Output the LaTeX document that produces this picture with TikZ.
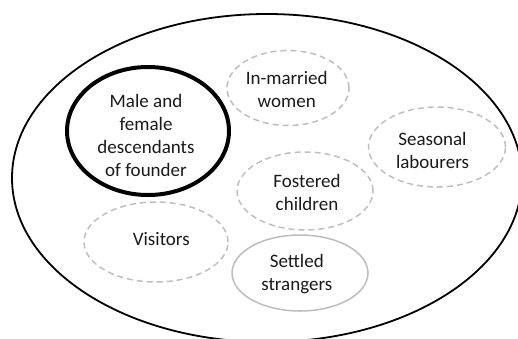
\documentclass[tikz,border=0pt]{standalone}
\usepackage{fontspec}
\setmainfont{Carlito}
\usetikzlibrary{shapes.geometric}
\definecolor{dashgray}{HTML}{BFBFBF}
\definecolor{solidgray}{HTML}{BDBDBD}
\definecolor{txtcol}{HTML}{1A1A1A}
\tikzset{
  grp/.style={ellipse, inner sep=0pt},
  dashgrp/.style={grp, draw=dashgray, line width=1.5pt, dash pattern=on 6pt off 4pt},
  solidgrp/.style={grp, draw=solidgray, line width=1.5pt},
  coregrp/.style={grp, draw=black, line width=4pt},
  outergrp/.style={ellipse, draw=black, line width=1.8pt, inner sep=0pt},
  lbl/.style={anchor=base, inner sep=0pt, align=center, text=txtcol, font=\fontsize{19}{23}\selectfont},
}
\begin{document}
\begin{tikzpicture}[x=1pt,y=-1pt]
\useasboundingbox (0,0) rectangle (518,338);
\fill[white] (0,0) rectangle (518,338);
\begin{scope}
\clip (0,0) rectangle (518,338);
\node[outergrp, minimum width=510pt, minimum height=328pt] (outer) at (267,178) {};
\end{scope}
\node[coregrp, minimum width=162pt, minimum height=128pt] (core) at (148,131) {};
\node[dashgrp, minimum width=122pt, minimum height=75pt] (inmarried) at (288,88) {};
\node[dashgrp, minimum width=137pt, minimum height=80pt] (seasonal) at (437,147) {};
\node[dashgrp, minimum width=136pt, minimum height=78pt] (fostered) at (305,191) {};
\node[dashgrp, minimum width=144pt, minimum height=80pt] (visitors) at (156,242) {};
\node[solidgrp, minimum width=136pt, minimum height=76pt] (settled) at (300,273) {};
\node[lbl] (coretxt) at (146,176.7) {Male and\\female\\descendants\\of founder};
\node[lbl] (inmarriedtxt) at (286.7,107.5) {In-married\\women};
\node[lbl] (seasonaltxt) at (432.5,168.7) {Seasonal\\labourers};
\node[lbl] (fosteredtxt) at (307,210.7) {Fostered\\children};
\node[lbl] (visitorstxt) at (161.3,245) {Visitors};
\node[lbl] (settledtxt) at (296.8,290.7) {Settled\\strangers};
\end{tikzpicture}
\end{document}
